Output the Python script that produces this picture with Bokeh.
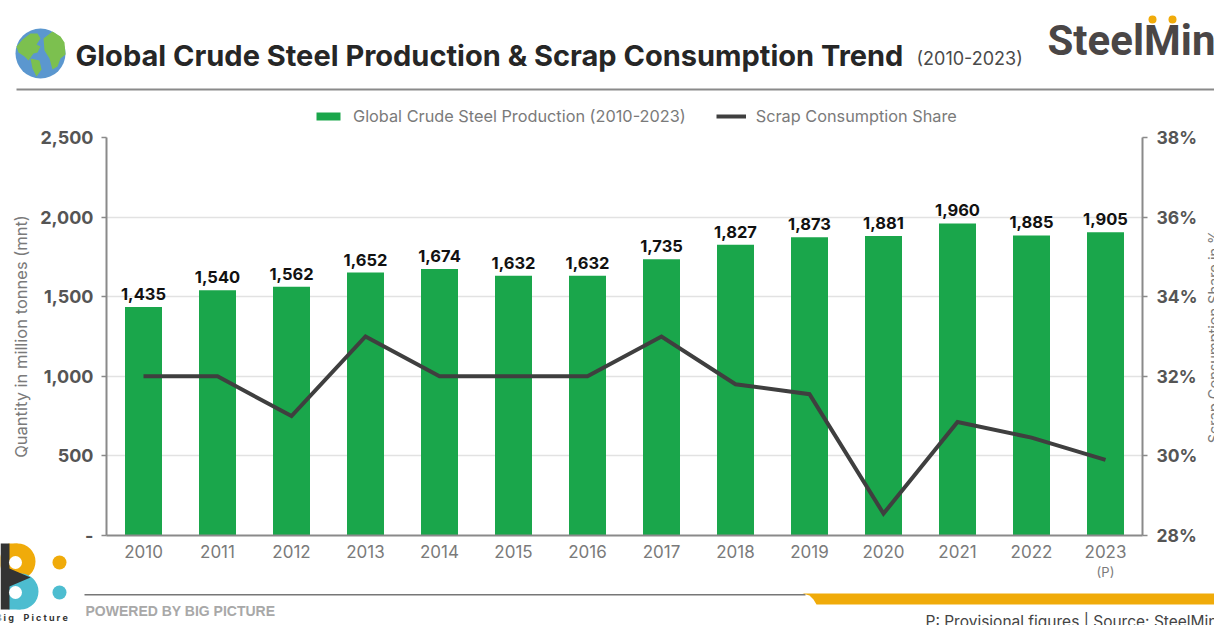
from bokeh.plotting import figure
from bokeh.layouts import column
from bokeh.models import Range1d, FactorRange, LinearAxis, FixedTicker, Legend, LegendItem
from bokeh.core.properties import value
from bokeh.embed import file_html
from bokeh.resources import INLINE

years = ["2010","2011","2012","2013","2014","2015","2016","2017","2018","2019","2020","2021","2022","2023"]
production = [1435,1540,1562,1652,1674,1632,1632,1735,1827,1873,1881,1960,1885,1905]
production_labels = ["1,435","1,540","1,562","1,652","1,674","1,632","1,632","1,735","1,827","1,873","1,881","1,960","1,885","1,905"]
scrap_share = [32,32,31,33,32,32,32,33,31.8,31.55,28.55,30.85,30.46,29.9]
left_ticks = [0,500,1000,1500,2000,2500]
left_tick_labels = ["-","500","1,000","1,500","2,000","2,500"]
right_ticks = [28,30,32,34,36,38]

FONT = "Inter"
GREEN = "#1aa64b"
DARK = "#3f3f3f"
GREY = "#7a7a7a"
ORANGE = "#f0ab0a"
BLUE = "#4dbdd0"

# ---- the page furniture, drawn in page pixels behind the chart
d = figure(frame_width=1214, frame_height=625, x_range=Range1d(0,1214), y_range=Range1d(625,0),
           output_backend="svg", toolbar_location=None, min_border=0, outline_line_color=None,
           x_axis_location=None, y_axis_location=None, frame_align=False)
d.grid.visible = False

def txt(x, y, s, size, color, style="normal", font=FONT, align="left", baseline="middle", angle=0):
    d.text(x=[x], y=[y], text=[s], text_font=value(font), text_font_size=f"{size}px", text_color=color,
           text_font_style=style, text_align=align, text_baseline=baseline, angle=angle)

def poly(xs, ys, color):
    d.patch(xs, ys, fill_color=color, line_color=None)

def circle(cx, cy, r, color):
    d.circle(x=[cx], y=[cy], radius=r, fill_color=color, line_color=None)

def box(l, r, t, b, color):
    d.quad(left=[l], right=[r], top=[t], bottom=[b], fill_color=color, line_color=None)

# header
circle(40, 53, 25, "#5b97cf")
poly([22,30,37,40,36,40,37,33,28,24,18,16], [39,33,33,38,44,46,52,53,60,56,52,46], "#7cc04f")
poly([30,39,41,36,32], [58,60,69,76,68], "#7cc04f")
poly([43,52,60,64,65,60,57,52,49,44], [38,31,36,42,54,58,66,69,58,50], "#7cc04f")
txt(75, 55, "Global Crude Steel Production & Scrap Consumption Trend", 29, "#262626", "bold")
txt(916, 58, "(2010-2023)", 18, "#4a4a4a")
txt(1047, 40, "SteelMint", 42, "#4a4646", "bold", font="Roboto")
circle(1152, 19, 4, ORANGE); circle(1172, 19, 4, ORANGE)
box(16, 1214, 88, 90, "#8a8a8a")

# 2023 provisional mark
txt(1105, 571, "(P)", 13, GREY, align="center")

# footer
box(84, 805, 593.5, 595, "#777777")
poly([802,1214,1214,816,813,809], [593,593,604,604,599,595], ORANGE)
txt(85, 610, "POWERED BY BIG PICTURE", 14, "#a8a8a8", "bold", font="Liberation Sans")
txt(925, 621, "P: Provisional figures  |  Source: SteelMint", 15.5, "#444444")

# Big Picture logo
circle(17, 561, 18, ORANGE); box(8, 17, 543, 579, ORANGE)
circle(20, 591, 18, BLUE); box(8, 20, 573, 609, BLUE)
poly([0,9,9,30,9,9,0], [543,543,568,577,586,609,609], "#333333")
circle(15, 562, 6.5, "white"); circle(15, 592, 6.5, "white")
circle(59, 562, 7, ORANGE); circle(59, 592, 7, BLUE)
nb = "\u00a0"
txt(-5, 617, nb.join("Big"), 9, "#333333", "bold")
txt(23, 617, nb.join("Picture"), 9, "#333333", "bold")

# right-hand axis title, cut off by the page edge as in the source
txt(1213, 336, "Scrap Consumption Share in %", 14.5, GREY, align="center", angle=1.5708)

# legend: stands above the chart's frame, so it belongs to this figure;
# its two key renderers draw nothing visible (outside the range of this figure)
key_bar = d.quad(left=[-50], right=[-40], top=[-50], bottom=[-40], fill_color=GREEN, line_color=None)
key_line = d.line(x=[-50,-40], y=[-50,-50], line_color=DARK, line_width=4)
legend = Legend(items=[LegendItem(label="Global Crude Steel Production (2010-2023)", renderers=[key_bar]),
                       LegendItem(label="Scrap Consumption Share", renderers=[key_line])],
                orientation="horizontal", location=(313, 499), glyph_width=30, glyph_height=10,
                label_standoff=10, spacing=30, padding=0, margin=0, border_line_color=None,
                background_fill_alpha=0, label_text_font=FONT, label_text_font_size="16.3px",
                label_text_color=GREY)
d.add_layout(legend, "center")

# ---- the chart itself
p = figure(frame_width=1036, frame_height=398,
           x_range=FactorRange(factors=years, range_padding=0),
           y_range=Range1d(0,2500), output_backend="svg", toolbar_location=None,
           min_border_left=106, min_border_top=137, min_border_right=72, min_border_bottom=90,
           outline_line_color=None, background_fill_alpha=0, border_fill_alpha=0, frame_align=False,
           styles={"position":"absolute","top":"0px","left":"0px"})

p.extra_y_ranges = {"share": Range1d(28,38)}

p.vbar(x=years, top=production, width=0.5, fill_color=GREEN, line_color=None)
p.line(x=years, y=scrap_share, y_range_name="share", line_color=DARK, line_width=4, line_join="miter")
p.text(x=years, y=production, text=production_labels, text_font=value(FONT), text_font_style="bold",
       text_font_size="16.5px", text_color="#111111", text_align="center", text_baseline="bottom", y_offset=-7)

p.xgrid.visible = False
p.ygrid.grid_line_color = "#e2e2e2"
p.ygrid.grid_line_width = 1.5
p.ygrid.ticker = FixedTicker(ticks=left_ticks)

xa = p.xaxis[0]
xa.axis_line_color = "#8a8a8a"; xa.axis_line_width = 2
xa.major_tick_line_color = None; xa.minor_tick_line_color = None
xa.major_label_text_font = FONT; xa.major_label_text_font_size = "17px"; xa.major_label_text_color = GREY
xa.major_label_standoff = 3

ya = p.yaxis[0]
ya.ticker = FixedTicker(ticks=left_ticks)
ya.major_label_overrides = dict(zip(left_ticks, left_tick_labels))
ya.axis_line_color = "#8a8a8a"; ya.axis_line_width = 2
ya.major_tick_line_color = "#8a8a8a"; ya.major_tick_line_width = 1.5
ya.major_tick_in = 0; ya.major_tick_out = 5; ya.minor_tick_line_color = None
ya.major_label_text_font = FONT; ya.major_label_text_font_style = "bold"
ya.major_label_text_font_size = "18px"; ya.major_label_text_color = "#555555"
ya.major_label_standoff = 8
ya.axis_label = "Quantity in million tonnes (mnt)"
ya.axis_label_text_font = FONT; ya.axis_label_text_font_style = "normal"
ya.axis_label_text_font_size = "16.5px"; ya.axis_label_text_color = GREY
ya.axis_label_standoff = 6

ra = LinearAxis(y_range_name="share", ticker=FixedTicker(ticks=right_ticks),
                major_label_overrides={t: f"{t}%" for t in right_ticks})
ra.axis_line_color = "#8a8a8a"; ra.axis_line_width = 2
ra.major_tick_line_color = "#8a8a8a"; ra.major_tick_line_width = 1.5
ra.major_tick_in = 0; ra.major_tick_out = 5; ra.minor_tick_line_color = None
ra.major_label_text_font = FONT; ra.major_label_text_font_style = "bold"
ra.major_label_text_font_size = "17.5px"; ra.major_label_text_color = "#555555"
ra.major_label_standoff = 9
p.add_layout(ra, "right")

open("out.html", "w").write(file_html(column(d, p, spacing=0), INLINE))
